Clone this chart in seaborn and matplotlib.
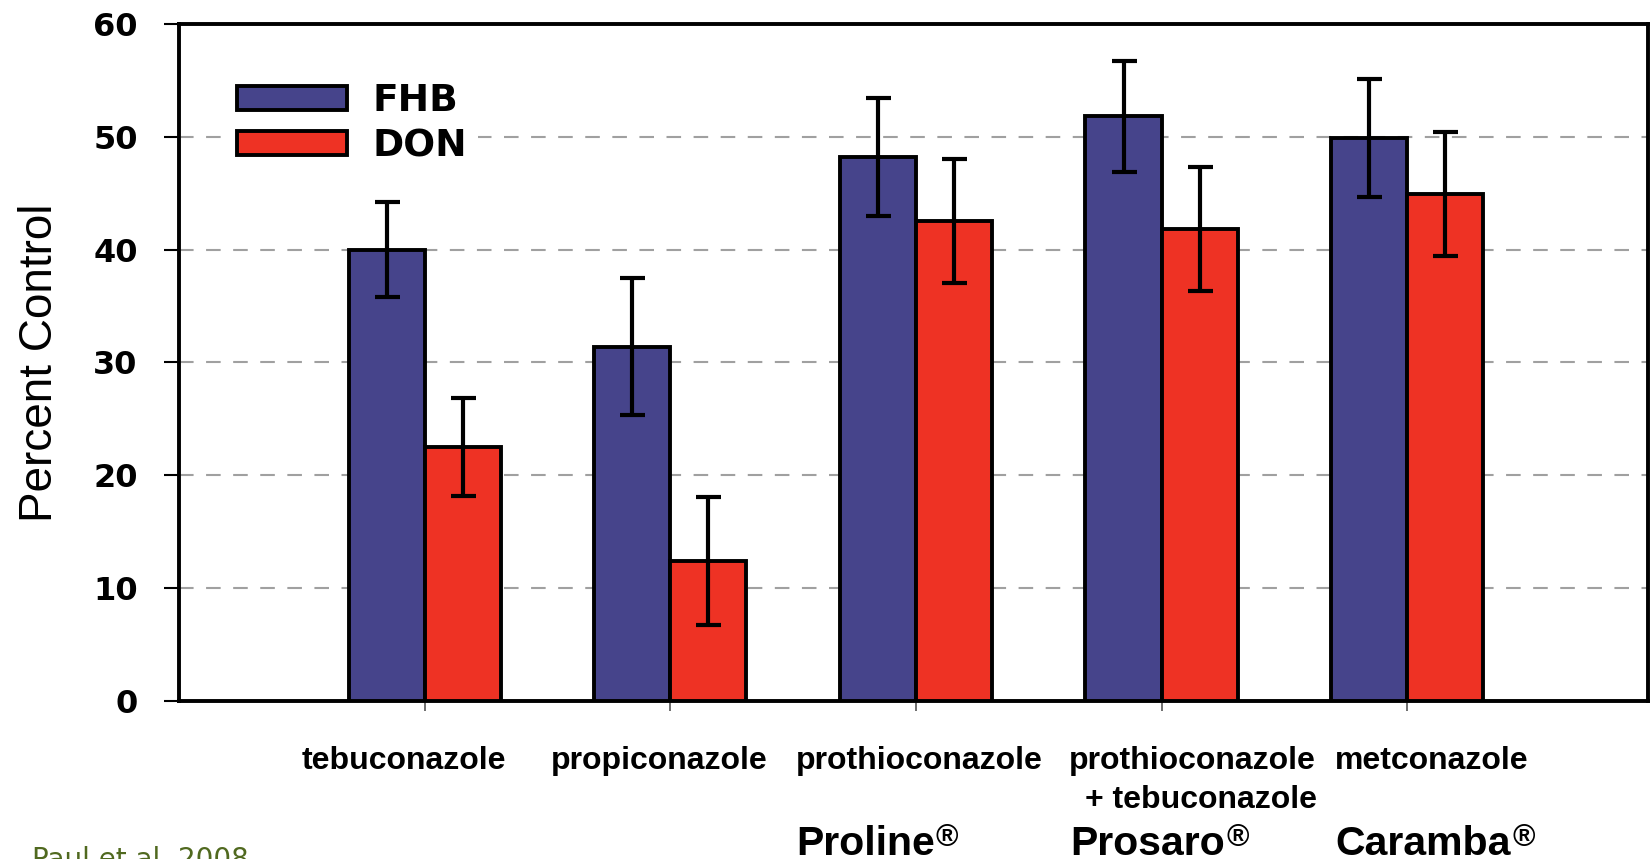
import matplotlib
matplotlib.use("Agg")
import matplotlib.pyplot as plt
import matplotlib.patches as mpatches
import matplotlib.transforms as mtransforms
import matplotlib.font_manager as fm
import seaborn as sns
import pandas as pd

# ---------------- data ----------------
categories = ["tebuconazole", "propiconazole", "prothioconazole",
              "prothioconazole + tebuconazole", "metconazole"]
label_line1 = ["tebuconazole", "propiconazole", "prothioconazole",
               "prothioconazole", "metconazole"]
label_line2 = ["", "", "", "+ tebuconazole", ""]
brands = ["", "", "Proline", "Prosaro", "Caramba"]
series = ["FHB", "DON"]
fhb = [40.0, 31.4, 48.2, 51.8, 49.9]
fhb_err = [4.2, 6.1, 5.2, 4.9, 5.25]
don = [22.5, 12.4, 42.5, 41.8, 44.9]
don_err = [4.3, 5.7, 5.5, 5.5, 5.5]
y_ticks = [0, 10, 20, 30, 40, 50, 60]
citation = "Paul et al. 2008"

# ---------------- style ----------------
sns.set_style("white")
plt.rcParams["font.family"] = ["Liberation Sans", "DejaVu Sans"]
for k in ["text.color", "axes.labelcolor", "xtick.color", "ytick.color"]:
    plt.rcParams[k] = "black"

avail = {f.name for f in fm.fontManager.ttflist}
if "Liberation Sans Narrow" in avail:
    narrow_family = ["Liberation Sans Narrow", "DejaVu Sans"]
    lab_size, brand_size, reg_size = 28, 36, 26
else:
    narrow_family = ["Liberation Sans", "DejaVu Sans"]
    lab_size, brand_size, reg_size = 23, 29.5, 22

blue = "#46448b"
red = "#ee3224"
palette = {"FHB": blue, "DON": red}

df = pd.DataFrame({
    "treatment": categories * 2,
    "measure": ["FHB"] * len(categories) + ["DON"] * len(categories),
    "value": fhb + don,
})

W, H = 1650, 859
fig = plt.figure(figsize=(W / 100, H / 100), dpi=100)
ax_left, ax_right, ax_top, ax_bottom = 179, 1648, 24, 700.8
ax = fig.add_axes([ax_left / W, 1 - ax_bottom / H,
                   (ax_right - ax_left) / W, (ax_bottom - ax_top) / H])

sns.barplot(data=df, x="treatment", y="value", hue="measure",
            order=categories, hue_order=series, palette=palette,
            width=0.62, gap=0, saturation=1, edgecolor="black",
            linewidth=2.8, errorbar=None, legend=False, ax=ax, zorder=3)

for container, errs in zip(ax.containers, [fhb_err, don_err]):
    xs = [b.get_x() + b.get_width() / 2 for b in container]
    hs = [b.get_height() for b in container]
    ax.errorbar(xs, hs, yerr=errs, fmt="none", ecolor="black",
                elinewidth=3, capsize=9, capthick=3, zorder=5)

ax.set_xlim(-1.0, 4.98)
ax.set_ylim(0, 60)
ax.set_yticks(y_ticks)
ax.set_yticklabels([str(v) for v in y_ticks],
                   fontfamily="DejaVu Sans", fontweight="bold", fontsize=23)
ax.set_xticks(range(len(categories)))
ax.set_xticklabels([])
ax.set_xlabel("")
ax.set_ylabel("")
ax.tick_params(axis="y", direction="out", length=10.8, width=1.5,
               pad=19, left=True, colors="black")
ax.tick_params(axis="x", direction="out", length=7, width=1.2,
               bottom=True, color="#555555")

ax.yaxis.grid(True, color="#a0a0a0", linestyle=(0, (7, 6)), linewidth=1.5)
ax.xaxis.grid(False)
ax.set_axisbelow(True)
for s in ax.spines.values():
    s.set_visible(True)
    s.set_color("black")
    s.set_linewidth(2.8)

# legend
handles = [mpatches.Patch(facecolor=palette[s], edgecolor="black",
                          linewidth=2.8) for s in series]
ax.legend(handles, series, loc="upper left", bbox_to_anchor=(0.032, 0.929),
          frameon=True, facecolor="white", edgecolor="none", framealpha=1,
          fancybox=False, labelcolor="black",
          prop={"family": "DejaVu Sans", "weight": "bold", "size": 27},
          handlelength=2.93, handleheight=0.61, handletextpad=0.67,
          labelspacing=0.25, borderpad=0.3, borderaxespad=0)

# y label
fig.text(52 / W, 1 - 363 / H, "Percent Control", rotation=90,
         rotation_mode="anchor", ha="center", va="baseline",
         fontsize=33, fontfamily=["Liberation Sans", "DejaVu Sans"])

# category labels under the axis
blend = mtransforms.blended_transform_factory(ax.transData, fig.transFigure)
line1_x = [-0.086, 0.955, 2.012, 3.126, 4.098]
line2_x = [0, 0, 0, 3.159, 0]
brand_x = [0, 0, 1.511, 2.627, 3.707]
for i in range(len(categories)):
    fig.text(line1_x[i], 1 - 769 / H, label_line1[i], transform=blend,
             ha="center", va="baseline", fontsize=lab_size,
             fontweight="bold", fontfamily=narrow_family)
    if label_line2[i]:
        fig.text(line2_x[i], 1 - 808 / H, label_line2[i], transform=blend,
                 ha="center", va="baseline", fontsize=lab_size,
                 fontweight="bold", fontfamily=narrow_family)
    if brands[i]:
        t = fig.text(brand_x[i], 1 - 855 / H, brands[i], transform=blend,
                     ha="left", va="baseline", fontsize=brand_size,
                     fontweight="bold", fontfamily=narrow_family)
        fig.canvas.draw()
        ax.annotate("\u00ae", xy=(1, 1), xycoords=t,
                    xytext=(1.0, 1.5), textcoords="offset points",
                    ha="left", va="top", fontsize=reg_size,
                    fontweight="bold", fontfamily=narrow_family,
                    annotation_clip=False)

# citation (cut off at the bottom as in the original)
fig.text(32 / W, 1 - 868 / H, citation, ha="left", va="baseline",
         fontsize=20, color="#50691f", fontfamily="DejaVu Sans")

fig.savefig("out.png", dpi=100)
